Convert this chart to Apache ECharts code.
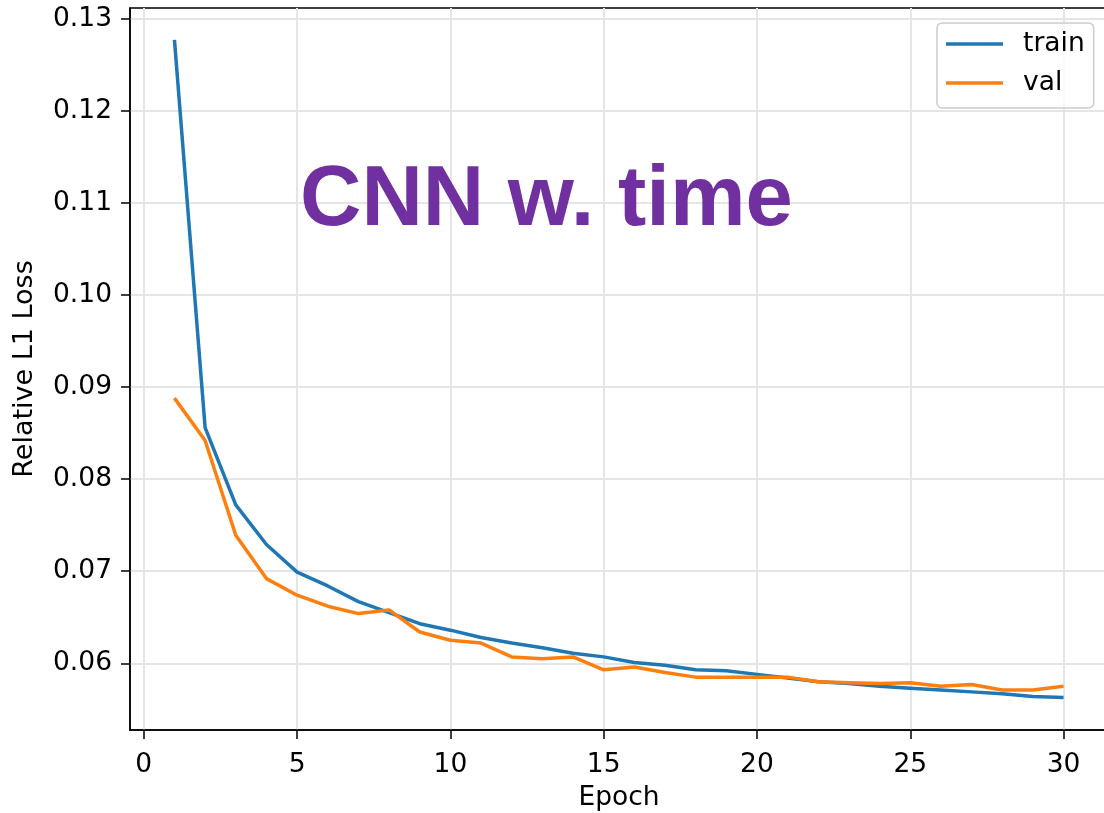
<!DOCTYPE html>
<html>
<head>
<meta charset="utf-8">
<script src="https://cdn.jsdelivr.net/npm/echarts@6/dist/echarts.min.js"></script>
<style>
html,body{margin:0;padding:0;background:#fff;overflow:hidden;}
#wrap{width:1104px;height:813px;overflow:hidden;position:relative;}
#chart{width:1116px;height:813px;position:absolute;left:0;top:0;}
</style>
</head>
<body>
<div id="wrap"><div id="chart"></div></div>
<script>
const epochs = [1,2,3,4,5,6,7,8,9,10,11,12,13,14,15,16,17,18,19,20,21,22,23,24,25,26,27,28,29,30];
const trainLoss = [0.1277,0.0856,0.0772,0.0729,0.0699,0.0684,0.0667,0.0655,0.0643,0.0636,0.0628,0.0622,0.0617,0.0611,0.0607,0.0601,0.0598,0.0593,0.0592,0.0588,0.0584,0.0580,0.0578,0.0575,0.0573,0.0571,0.0569,0.0567,0.0564,0.0563];
const valLoss = [0.0888,0.0842,0.0739,0.0692,0.0674,0.0662,0.0654,0.0658,0.0634,0.0625,0.0622,0.0607,0.0605,0.0607,0.0593,0.0596,0.0590,0.0585,0.0585,0.0585,0.0585,0.0580,0.0579,0.0578,0.0579,0.0575,0.0577,0.0571,0.0571,0.0575];
const xTicks = [0,5,10,15,20,25,30];
const yTicks = [0.06,0.07,0.08,0.09,0.10,0.11,0.12,0.13];
const seriesNames = ['train','val'];
const titleText = 'CNN w. time';
const xName = 'Epoch';
const yName = 'Relative L1 Loss';

const FONT = 'DejaVu Sans';
const FS = 26.5;
const chart = echarts.init(document.getElementById('chart'), null, {renderer:'canvas', width:1116, height:813});
const pairs = arr => epochs.map((e,i)=>[e, arr[i]]);

const option = {
  animation: false,
  backgroundColor: '#ffffff',
  grid: {left:130, top:8, width:978, height:722, outerBoundsMode:'none', containLabel:false, show:true, borderColor:'#000', borderWidth:1.5, backgroundColor:'transparent'},
  legend: {
    data: seriesNames.map(n=>({name:n, icon:'rect'})),
    orient:'vertical', left:937, top:23,
    itemWidth:57, itemHeight:3.5, itemGap:9,
    padding:[6,9,10,9],
    backgroundColor:'rgba(255,255,255,0.8)', borderColor:'#cccccc', borderWidth:1.5, borderRadius:5,
    textStyle:{fontFamily:FONT, fontSize:FS, color:'#000', lineHeight:30, padding:[0,0,0,15]}
  },
  xAxis: {
    type:'value', min:-0.45, max:31.45,
    name:xName, nameLocation:'middle', nameGap:55,
    nameTextStyle:{fontFamily:FONT, fontSize:FS, color:'#000'},
    axisLine:{show:true, onZero:false, lineStyle:{color:'#000', width:1.5}},
    axisTick:{show:true, customValues:xTicks, length:9, lineStyle:{color:'#000', width:1.5}},
    axisLabel:{customValues:xTicks, fontFamily:FONT, fontSize:FS, color:'#000', margin:22},
    splitLine:{show:true, lineStyle:{color:'#e5e5e5', width:2}}
  },
  yAxis: {
    type:'value', min:0.05276, max:0.13116,
    name:yName, nameLocation:'middle', nameGap:92, nameRotate:90,
    nameTextStyle:{fontFamily:FONT, fontSize:27, color:'#000'},
    axisLine:{show:true, onZero:false, lineStyle:{color:'#000', width:1.5}},
    axisTick:{show:true, customValues:yTicks, length:9, lineStyle:{color:'#000', width:1.5}},
    axisLabel:{customValues:yTicks, fontFamily:FONT, fontSize:FS, color:'#000', margin:18, formatter: v => v.toFixed(2)},
    splitLine:{show:true, lineStyle:{color:'#e5e5e5', width:2}}
  },
  graphic: [{
    type:'text', left:300, top:159, z:5,
    style:{text:titleText, fontFamily:'Liberation Sans', fontWeight:'bold', fontSize:85, fill:'#7030a0'}
  }],
  series: [
    {name:seriesNames[0], type:'line', data:pairs(trainLoss), showSymbol:false, lineStyle:{color:'#1f77b4', width:3.5}, itemStyle:{color:'#1f77b4'}, z:3},
    {name:seriesNames[1], type:'line', data:pairs(valLoss), showSymbol:false, lineStyle:{color:'#ff7f0e', width:3.5}, itemStyle:{color:'#ff7f0e'}, z:4}
  ]
};
chart.setOption(option);
</script>
</body>
</html>
